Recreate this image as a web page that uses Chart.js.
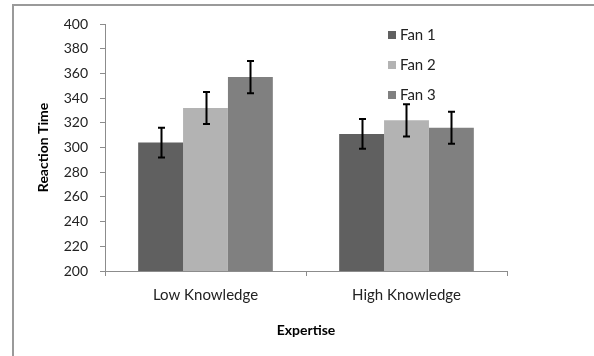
<!DOCTYPE html>
<html>
<head>
<meta charset="utf-8">
<script src="https://cdn.jsdelivr.net/npm/chart.js@4/dist/chart.umd.min.js"></script>
<style>
  html, body { margin: 0; padding: 0; background: #fff; }
  #wrap { position: relative; width: 594px; height: 356px; }
</style>
</head>
<body>
<div id="wrap"><canvas id="c" width="594" height="356"></canvas></div>
<script>
// Mean reaction times by expertise and fan level, with error bar half-widths
const categories = ['Low Knowledge', 'High Knowledge'];
const seriesNames = ['Fan 1', 'Fan 2', 'Fan 3'];
const fan1 = [304, 311];
const fan2 = [332, 322];
const fan3 = [357, 316];
const fan1Err = [12, 12];
const fan2Err = [13, 13];
const fan3Err = [13, 13];
const yTicks = [200, 220, 240, 260, 280, 300, 320, 340, 360, 380, 400];

const colors = ['#606060', '#b3b3b3', '#808080'];
const FONT = 'Lato, "Open Sans", sans-serif';
const TEXT = '#222';
const AXIS = '#8c8c8c';

const datasets = [fan1, fan2, fan3].map((vals, i) => ({
  label: seriesNames[i],
  data: vals,
  errors: [fan1Err, fan2Err, fan3Err][i],
  backgroundColor: colors[i],
  borderWidth: 0,
  categoryPercentage: 0.67,
  barPercentage: 1.0
}));

// Outer frame line along the top and left edge
const framePlugin = {
  id: 'frame',
  beforeDraw(chart) {
    const ctx = chart.ctx;
    ctx.save();
    ctx.strokeStyle = '#9a9a9a';
    ctx.lineWidth = 2;
    ctx.beginPath();
    ctx.moveTo(13, 360);
    ctx.lineTo(13, 5);
    ctx.lineTo(600, 5);
    ctx.stroke();
    ctx.restore();
  }
};

// Vertical error bars with short caps
const errorBarPlugin = {
  id: 'errorBars',
  afterDatasetsDraw(chart) {
    const ctx = chart.ctx;
    const y = chart.scales.y;
    ctx.save();
    ctx.strokeStyle = '#000';
    ctx.lineWidth = 2;
    chart.data.datasets.forEach((ds, di) => {
      const meta = chart.getDatasetMeta(di);
      meta.data.forEach((bar, i) => {
        const v = ds.data[i], e = ds.errors[i];
        const x = Math.round(bar.x) + 0.5;
        const yTop = y.getPixelForValue(v + e);
        const yBot = y.getPixelForValue(v - e);
        ctx.beginPath();
        ctx.moveTo(x, yTop); ctx.lineTo(x, yBot);
        ctx.moveTo(x - 3.5, yTop); ctx.lineTo(x + 3.5, yTop);
        ctx.moveTo(x - 3.5, yBot); ctx.lineTo(x + 3.5, yBot);
        ctx.stroke();
      });
    });
    ctx.restore();
  }
};

// Stacked legend drawn inside the plot area
const legendPlugin = {
  id: 'insideLegend',
  afterDraw(chart) {
    const ctx = chart.ctx;
    const left = 388, top = 35, gap = 30;
    ctx.save();
    ctx.font = '15px ' + FONT;
    ctx.textBaseline = 'middle';
    chart.data.datasets.forEach((ds, i) => {
      const cy = top + i * gap;
      ctx.fillStyle = ds.backgroundColor;
      ctx.fillRect(left, cy - 4, 8, 8);
      ctx.fillStyle = TEXT;
      ctx.fillText(ds.label, left + 12, cy + 0.5);
    });
    ctx.restore();
  }
};

new Chart(document.getElementById('c'), {
  type: 'bar',
  data: { labels: categories, datasets },
  plugins: [framePlugin, errorBarPlugin, legendPlugin],
  options: {
    responsive: false,
    animation: false,
    layout: { padding: { left: 0, top: 24, right: 87, bottom: 0 } },
    plugins: { legend: { display: false }, tooltip: { enabled: false } },
    scales: {
      x: {
        afterFit(s) { s.height = 85; },
        grid: { offset: true, drawOnChartArea: false, drawTicks: true, tickLength: 5, color: AXIS, lineWidth: 1 },
        border: { color: AXIS, width: 1 },
        ticks: { color: TEXT, font: { family: FONT, size: 15 }, padding: 10 },
        title: { display: true, text: 'Expertise', color: '#000', font: { family: FONT, size: 14, weight: 'bold' }, padding: { top: 0, bottom: 17 } }
      },
      y: {
        min: 200, max: 400,
        afterFit(s) { s.width = 105; },
        afterBuildTicks(s) { s.ticks = yTicks.map(v => ({ value: v })); },
        grid: { drawOnChartArea: false, drawTicks: true, tickLength: 5, color: AXIS, lineWidth: 1 },
        border: { color: AXIS, width: 1 },
        ticks: { color: TEXT, font: { family: FONT, size: 14 }, padding: 12 },
        title: { display: true, text: 'Reaction Time', color: '#000', font: { family: FONT, size: 14, weight: 'bold' }, padding: { top: 35, bottom: 0 } }
      }
    }
  }
});
</script>
</body>
</html>
